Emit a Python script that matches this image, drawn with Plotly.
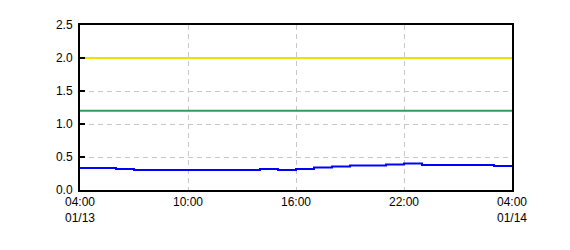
import plotly.graph_objects as go
import pandas as pd

# Data
times = pd.date_range("2024-01-13 04:00", "2024-01-14 04:00", freq="1h")
blue_vals = [0.333, 0.333, 0.318, 0.303, 0.303, 0.303, 0.303, 0.303, 0.303, 0.303,
             0.32, 0.303, 0.318, 0.34, 0.355, 0.37, 0.37, 0.385, 0.40, 0.38,
             0.38, 0.38, 0.38, 0.365, 0.365]
green_level = 1.2
yellow_level = 2.0
x_tickvals = pd.date_range("2024-01-13 04:00", "2024-01-14 04:00", freq="6h")
x_ticktext = ["04:00<br>01/13", "10:00", "16:00", "22:00", "04:00<br>01/14"]
y_tickvals = [0, 0.5, 1.0, 1.5, 2.0, 2.5]

fig = go.Figure()
fig.add_trace(go.Scatter(x=[times[0], times[-1]], y=[yellow_level, yellow_level],
                         mode="lines", line=dict(color="#f0e000", width=2), hoverinfo="skip"))
fig.add_trace(go.Scatter(x=[times[0], times[-1]], y=[green_level, green_level],
                         mode="lines", line=dict(color="#2e9e5e", width=2), hoverinfo="skip"))
fig.add_trace(go.Scatter(x=times, y=blue_vals, mode="lines",
                         line=dict(color="#0000ff", width=2, shape="hv")))

fig.update_layout(
    width=570, height=250,
    margin=dict(l=80, r=58, t=25, b=60),
    paper_bgcolor="white", plot_bgcolor="white",
    showlegend=False,
    font=dict(family="Liberation Sans, Arial, sans-serif", size=12, color="black"),
)
fig.update_xaxes(
    range=[times[0], times[-1]],
    tickvals=x_tickvals, ticktext=x_ticktext,
    showline=True, linecolor="black", linewidth=2, mirror=True,
    showgrid=True, gridcolor="#c8c8c8", griddash="5px,4px", gridwidth=1,
    ticks="", zeroline=False,
)
fig.update_yaxes(
    range=[0, 2.5],
    tickvals=y_tickvals, tickformat=".1f",
    showline=True, linecolor="black", linewidth=2, mirror=True,
    showgrid=True, gridcolor="#c8c8c8", griddash="5px,4px", gridwidth=1,
    ticks="inside", ticklen=5, tickwidth=2, tickcolor="black",
    ticklabelstandoff=3,
    zeroline=False,
)

fig.write_html("out.html")
